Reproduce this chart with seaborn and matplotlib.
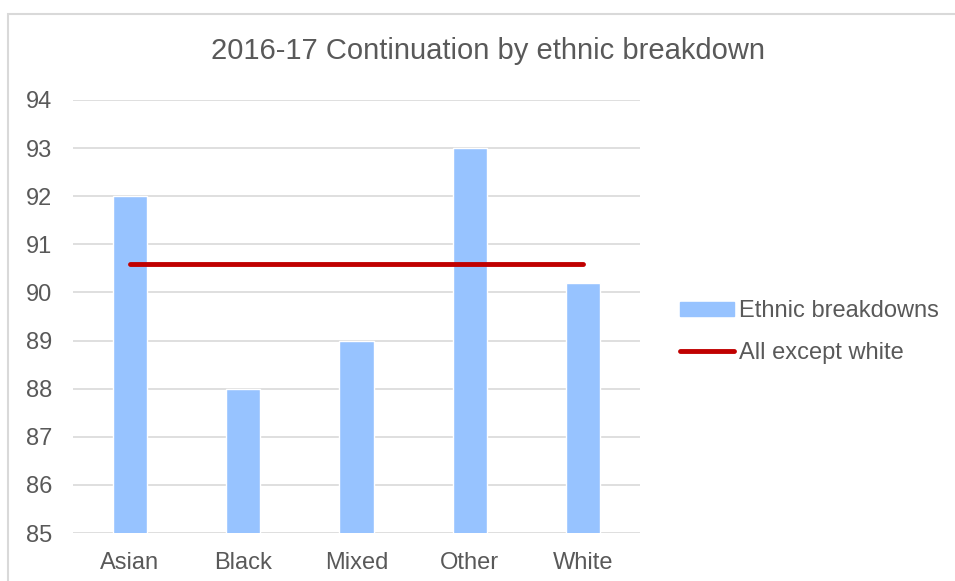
import matplotlib
matplotlib.use("Agg")
import matplotlib.pyplot as plt
import seaborn as sns
import pandas as pd
from matplotlib.patches import Rectangle
from matplotlib.lines import Line2D

sns.set_style("white")
plt.rcParams["font.family"] = ["Liberation Sans", "DejaVu Sans"]

# data
groups = ["Asian", "Black", "Mixed", "Other", "White"]
continuation = [92.0, 88.0, 89.0, 93.0, 90.2]
all_except_white = 90.6
yticks = [85, 86, 87, 88, 89, 90, 91, 92, 93, 94]

BAR = "#97c3ff"
LINE = "#c00000"
TXT = "#595959"
GRID = "#d9d9d9"

df = pd.DataFrame({"group": groups, "value": continuation})

fig = plt.figure(figsize=(9.55, 5.81), dpi=100)
ax = fig.add_axes([73 / 955, 1 - 533 / 581, 567 / 955, 433 / 581])

sns.barplot(data=df, x="group", y="value", color=BAR, width=0.3,
            saturation=1, ax=ax)
sns.lineplot(x=list(range(len(groups))), y=[all_except_white] * len(groups),
             color=LINE, linewidth=3.5, ax=ax, legend=False)

ax.set_ylim(85, 94)
ax.set_xlim(-0.5, len(groups) - 0.5)
ax.set_yticks(yticks)
ax.set_xlabel("")
ax.set_ylabel("")
ax.yaxis.grid(True, color=GRID, linewidth=1.2)
ax.set_axisbelow(True)
for s in ax.spines.values():
    s.set_visible(False)
ax.tick_params(axis="both", length=0, labelsize=17, labelcolor=TXT)
ax.tick_params(axis="y", pad=15)
ax.tick_params(axis="x", pad=14)

fig.text(488 / 955, 1 - 51 / 581, "2016-17 Continuation by ethnic breakdown",
         ha="center", va="center", fontsize=21, color=TXT)

handles = [Rectangle((0, 0), 1, 1, color=BAR),
           Line2D([0], [0], color=LINE, linewidth=3.5)]
fig.legend(handles, ["Ethnic breakdowns", "All except white"],
           loc="upper left", bbox_to_anchor=(680 / 955, 1 - 300 / 581),
           frameon=False, fontsize=17, labelcolor=TXT, handlelength=2.3,
           handleheight=0.55, handletextpad=0.2, borderpad=0,
           borderaxespad=0, labelspacing=0.85)

# chart-area border, open at the right and bottom edges
fig.add_artist(Rectangle((7.5 / 955, -0.1), 1.2, 1 - 13.5 / 581 + 0.1,
                         transform=fig.transFigure, fill=False,
                         edgecolor=GRID, linewidth=1.5))

fig.savefig("out.png", dpi=100)
